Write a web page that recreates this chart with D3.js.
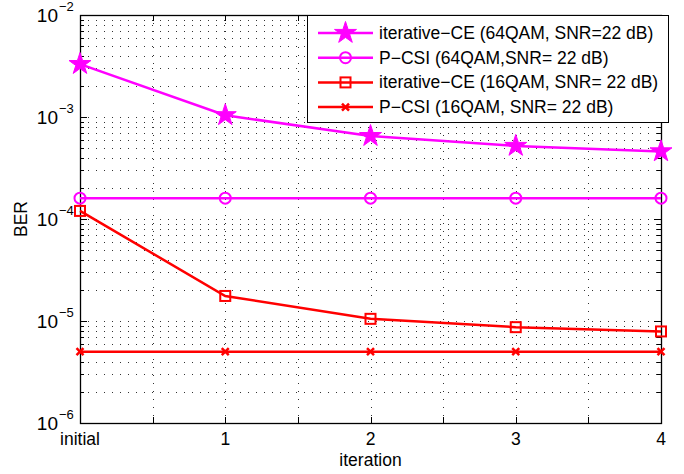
<!DOCTYPE html>
<html>
<head>
<meta charset="utf-8">
<script src="https://cdn.jsdelivr.net/npm/d3@7"></script>
<style>
  body { margin: 0; background: #fff; }
  svg { font-family: "Liberation Sans", Arial, sans-serif; }
</style>
</head>
<body>
<svg id="chart" width="684" height="474"></svg>
<script>
// data
var iterations = [0, 1, 2, 3, 4];
var xTickLabels = ["initial", "1", "2", "3", "4"];
var ce64 = [3.3e-3, 1.04e-3, 6.5e-4, 5.2e-4, 4.6e-4];
var pcsi64 = [1.6e-4, 1.6e-4, 1.6e-4, 1.6e-4, 1.6e-4];
var ce16 = [1.2e-4, 1.76e-5, 1.05e-5, 8.7e-6, 7.9e-6];
var pcsi16 = [5.0e-6, 5.0e-6, 5.0e-6, 5.0e-6, 5.0e-6];
var seriesNames = ["iterative\u2212CE (64QAM, SNR=22 dB)", "P\u2212CSI (64QAM,SNR= 22 dB)",
                   "iterative\u2212CE (16QAM, SNR= 22 dB)", "P\u2212CSI (16QAM, SNR= 22 dB)"];
var decades = [-6, -5, -4, -3, -2];

var series = [
    {name: seriesNames[0], values: ce64, color: "#ff00ff", marker: "star"},
    {name: seriesNames[1], values: pcsi64, color: "#ff00ff", marker: "circle"},
    {name: seriesNames[2], values: ce16, color: "#ff0000", marker: "square"},
    {name: seriesNames[3], values: pcsi16, color: "#ff0000", marker: "cross"}
];

var pLeft = 80, pRight = 661, pTop = 15, pBottom = 423;
var svg = d3.select("#chart");

var x = d3.scaleLinear().domain([0, 4]).range([pLeft, pRight]);
var y = d3.scaleLog().domain([1e-6, 1e-2]).range([pBottom, pTop]);

// grid lines
var minorY = [];
decades.slice(0, 4).forEach(function(d) {
    for (var k = 1; k <= 9; k++) minorY.push(k * Math.pow(10, d));
});
minorY.push(1e-2);
var halfX = d3.range(0, 4.01, 0.5);

var grid = svg.append("g");
grid.selectAll(".hg").data(minorY.filter(function(v) { return v > 1.01e-6 && v < 0.99e-2; }))
    .enter().append("line")
    .attr("x1", pLeft).attr("x2", pRight)
    .attr("y1", function(d) { return Math.round(y(d)) + 0.5; })
    .attr("y2", function(d) { return Math.round(y(d)) + 0.5; })
    .attr("stroke", "#333").attr("stroke-width", 1)
    .attr("stroke-dasharray", "1,7");
grid.selectAll(".vg").data(halfX.slice(1, -1))
    .enter().append("line")
    .attr("y1", pTop).attr("y2", pBottom)
    .attr("x1", function(d) { return Math.round(x(d)) + 0.5; })
    .attr("x2", function(d) { return Math.round(x(d)) + 0.5; })
    .attr("stroke", "#333").attr("stroke-width", 1)
    .attr("stroke-dasharray", "1,7");

// ticks inside the box
var ticks = svg.append("g").attr("stroke", "#000").attr("stroke-width", 1);
minorY.forEach(function(v) {
    var major = Math.abs(Math.log10(v) - Math.round(Math.log10(v))) < 1e-9;
    var len = major ? 7 : 4;
    var yy = Math.round(y(v)) + 0.5;
    ticks.append("line").attr("x1", pLeft).attr("x2", pLeft + len).attr("y1", yy).attr("y2", yy);
    ticks.append("line").attr("x1", pRight).attr("x2", pRight - len).attr("y1", yy).attr("y2", yy);
});
halfX.forEach(function(v) {
    var xx = Math.round(x(v)) + 0.5;
    ticks.append("line").attr("x1", xx).attr("x2", xx).attr("y1", pBottom).attr("y2", pBottom - 6);
    ticks.append("line").attr("x1", xx).attr("x2", xx).attr("y1", pTop).attr("y2", pTop + 6);
});

// box
svg.append("rect").attr("x", pLeft + 0.5).attr("y", pTop + 0.5)
    .attr("width", pRight - pLeft).attr("height", pBottom - pTop)
    .attr("fill", "none").attr("stroke", "#000").attr("stroke-width", 1.3);

// y tick labels 10^n
decades.forEach(function(d) {
    svg.append("text").attr("x", 58).attr("y", y(Math.pow(10, d)) + 7)
        .attr("text-anchor", "end").attr("font-size", 19).text("10");
    svg.append("text").attr("x", 59).attr("y", y(Math.pow(10, d)) - 4)
        .attr("font-size", 13).text("\u2212" + (-d));
});

// x tick labels
svg.selectAll(".xl").data(iterations).enter().append("text")
    .attr("x", function(d) { return x(d); })
    .attr("y", 445)
    .attr("text-anchor", "middle").attr("font-size", 17.5)
    .text(function(d, i) { return xTickLabels[i]; });

svg.append("text").attr("x", x(2)).attr("y", 466).attr("text-anchor", "middle")
    .attr("font-size", 17.5).text("iteration");
svg.append("text").attr("transform", "translate(27,219) rotate(-90)")
    .attr("text-anchor", "middle").attr("font-size", 17.5).text("BER");

function drawMarker(g, type, cx, cy, color) {
    if (type === "star") {
        g.append("path").attr("d", d3.symbol().type(d3.symbolStar).size(150)())
            .attr("transform", "translate(" + cx + "," + cy + ")")
            .attr("fill", color).attr("stroke", color).attr("stroke-width", 1);
    } else if (type === "circle") {
        g.append("circle").attr("cx", cx).attr("cy", cy).attr("r", 5.5)
            .attr("fill", "none").attr("stroke", color).attr("stroke-width", 2);
    } else if (type === "square") {
        g.append("rect").attr("x", cx - 5).attr("y", cy - 5).attr("width", 10).attr("height", 10)
            .attr("fill", "none").attr("stroke", color).attr("stroke-width", 2);
    } else {
        g.append("path").attr("d", "M-3.5,-3.5L3.5,3.5M-3.5,3.5L3.5,-3.5")
            .attr("transform", "translate(" + cx + "," + cy + ")")
            .attr("fill", "none").attr("stroke", color).attr("stroke-width", 2.5);
    }
}

var line = d3.line()
    .x(function(d, i) { return x(iterations[i]); })
    .y(function(d) { return y(d); });

series.forEach(function(s) {
    var g = svg.append("g");
    g.append("path").datum(s.values).attr("d", line)
        .attr("fill", "none").attr("stroke", s.color).attr("stroke-width", 2.5);
    s.values.forEach(function(v, i) { drawMarker(g, s.marker, x(iterations[i]), y(v), s.color); });
});

// legend
var lg = svg.append("g");
lg.append("rect").attr("x", 307.5).attr("y", 15.5).attr("width", 361).attr("height", 107)
    .attr("fill", "#fff").attr("stroke", "#000").attr("stroke-width", 1);
series.forEach(function(s, i) {
    var ly = 33 + i * 24.7;
    lg.append("line").attr("x1", 318).attr("x2", 373).attr("y1", ly).attr("y2", ly)
        .attr("stroke", s.color).attr("stroke-width", 2.5);
    drawMarker(lg, s.marker, 345.5, ly, s.color);
    lg.append("text").attr("x", 379).attr("y", ly + 6).attr("font-size", 17.5).text(s.name);
});
</script>
</body>
</html>
